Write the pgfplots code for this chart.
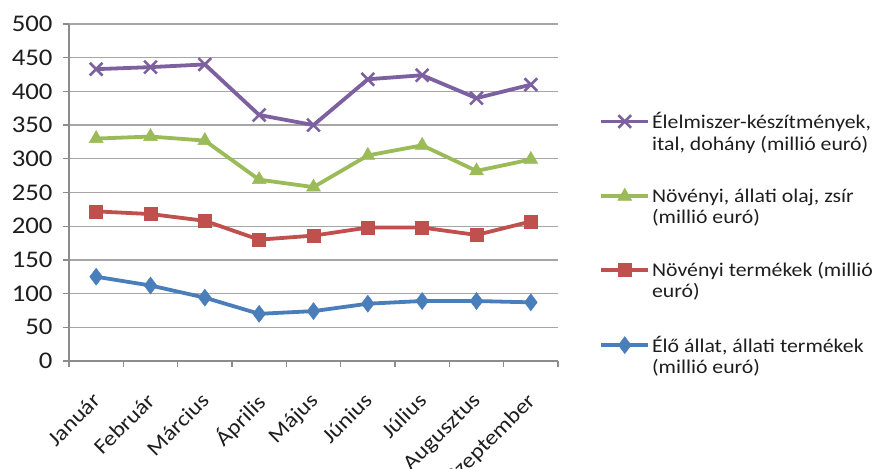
\documentclass[border=0pt]{standalone}
\usepackage{fontspec}
\setmainfont{Carlito}[FakeStretch=1.12]
\usepackage{pgfplots}
\pgfplotsset{compat=1.18}
\definecolor{elelm}{HTML}{7D60A0}
\definecolor{olaj}{HTML}{9BBB59}
\definecolor{noveny}{HTML}{C0504D}
\definecolor{allat}{HTML}{4A7EBB}
\definecolor{axisgray}{HTML}{8C8C8C}
\definecolor{gridgray}{HTML}{A6A6A6}
\definecolor{txt}{HTML}{1E1E1E}
\begin{document}
\begin{tikzpicture}[x=1bp,y=1bp]
\path[use as bounding box] (-69,-108) rectangle (818,361);
\begin{axis}[
  at={(0,0)}, anchor=south west,
  scale only axis, width=489bp, height=337bp,
  xmin=0.5, xmax=9.5, ymin=0, ymax=500,
  clip=false,
  axis x line*=bottom, axis y line*=left,
  axis line style={draw=axisgray, line width=1.3bp},
  xtick={1,...,9},
  xticklabels={Január,Február,Március,Április,Május,Június,Július,Augusztus,Szeptember},
  minor xtick={0.5,1.5,...,9.5},
  ytick={0,50,...,500},
  tick align=outside,
  major tick length=6bp, minor tick length=6bp,
  xtick style={draw=none},
  minor x tick style={draw=axisgray, line width=1.3bp},
  ytick style={draw=axisgray, line width=1.3bp},
  ymajorgrids,
  major grid style={draw=gridgray, line width=1.3bp},
  tick label style={font=\fontsize{24}{26}\selectfont, text=txt},
  /pgf/number format/assume math mode=true,
  yticklabel style={xshift=-7bp},
  xticklabel style={font=\fontsize{21.5}{24}\selectfont, inner sep=1bp,
    xshift=-5bp, yshift=-23bp, rotate=45, anchor=north east},
  legend cell align=left,
  legend style={at={(1.078,0.75)}, anchor=north west, draw=none, fill=none,
    font=\fontsize{19.5}{21.5}\selectfont, text=txt, row sep=33bp,
    cells={align=left}},
  legend image code/.code={%
    \draw[#1, mark repeat=2, mark phase=2, yshift=10.5bp] plot coordinates {(0bp,0bp) (23.5bp,0bp) (47bp,0bp)};},
  every axis plot/.append style={line width=3.8bp},
]
\addplot[color=elelm, mark=x, mark size=9bp, mark options={line width=2.6bp}]
  coordinates {(1,433) (2,436) (3,440) (4,365) (5,350) (6,418) (7,424) (8,390) (9,410)};
\addlegendentry{Élelmiszer-készítmények,\\ital, dohány (millió euró)}
\addplot[color=olaj, mark=triangle*, mark size=8bp, mark options={line width=0.5bp}]
  coordinates {(1,330) (2,333) (3,327) (4,269) (5,258) (6,305) (7,320) (8,282) (9,299)};
\addlegendentry{Növényi, állati olaj, zsír\\(millió euró)}
\addplot[color=noveny, mark=square*, mark size=6.5bp, mark options={line width=0.5bp}]
  coordinates {(1,222) (2,218) (3,208) (4,180) (5,186) (6,198) (7,198) (8,187) (9,207)};
\addlegendentry{Növényi termékek (millió\\euró)}
\addplot[color=allat, mark=diamond*, mark size=8.5bp, mark options={line width=0.5bp}]
  coordinates {(1,125) (2,112) (3,94) (4,70) (5,74) (6,85) (7,89) (8,89) (9,87)};
\addlegendentry{Élő állat, állati termékek\\(millió euró)}
\end{axis}
\end{tikzpicture}
\end{document}
